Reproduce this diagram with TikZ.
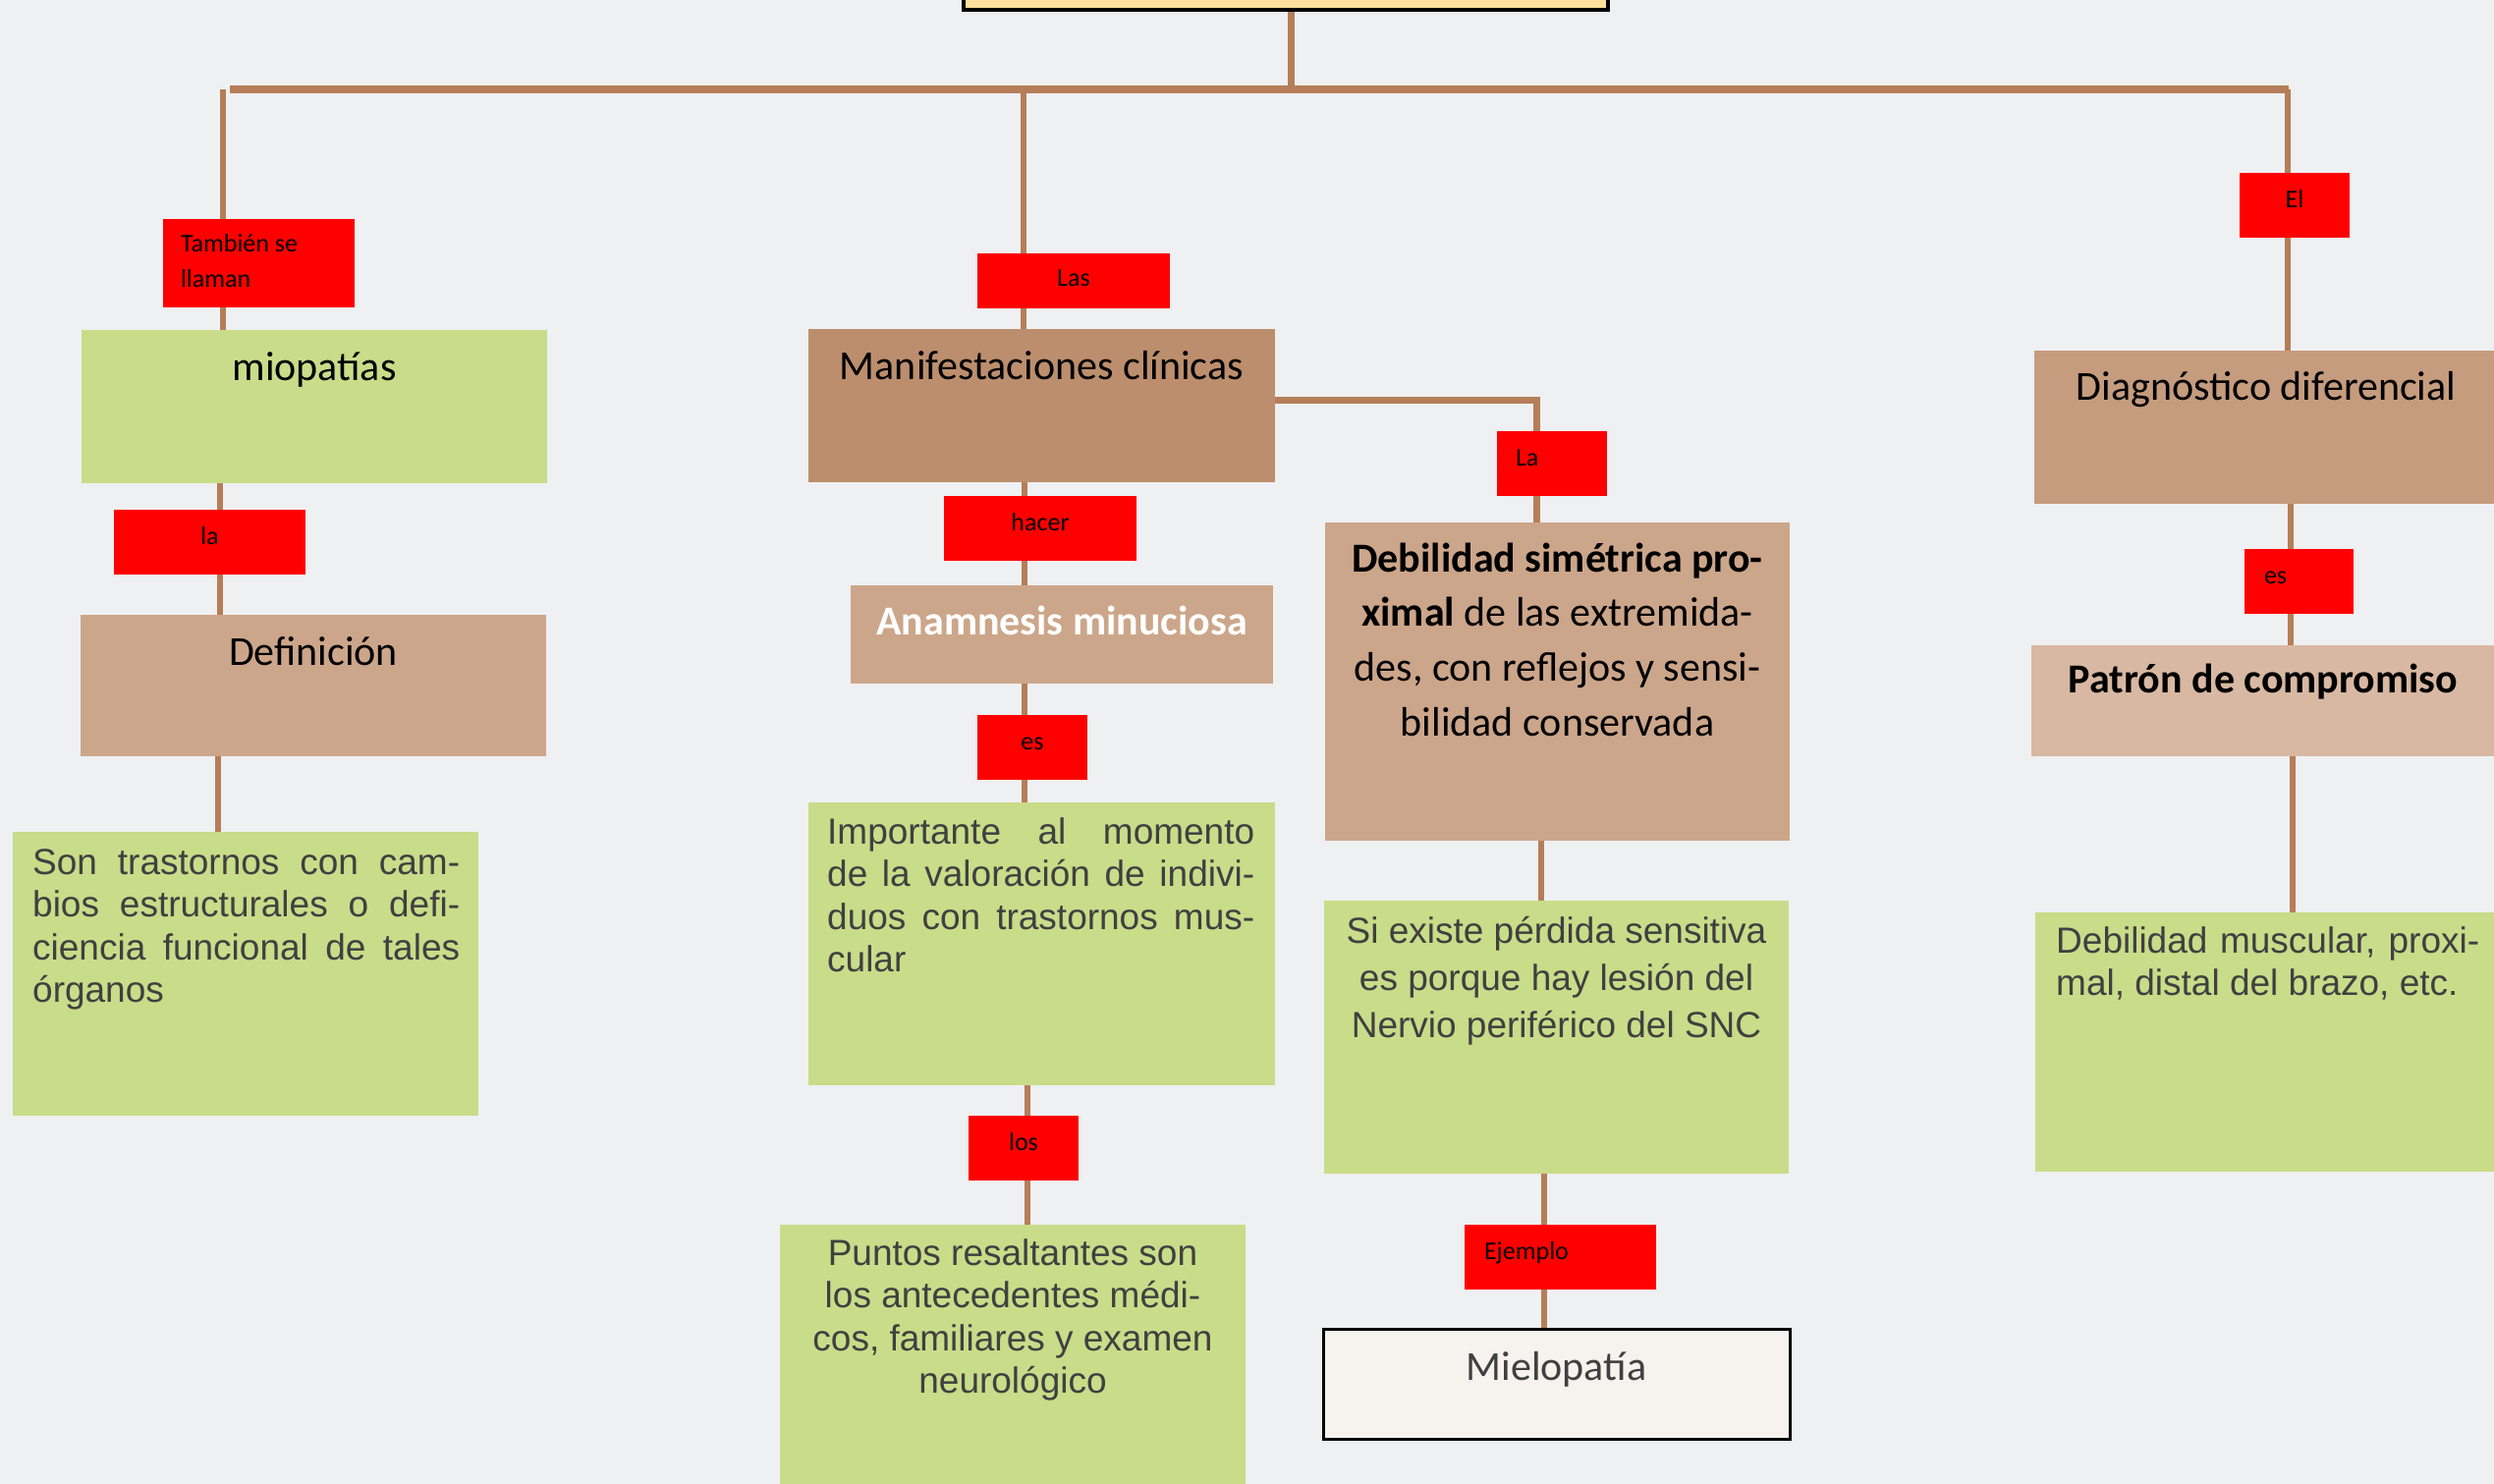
\documentclass[tikz,border=0pt]{standalone}
\usepackage{fontspec}
\setmainfont{Liberation Sans}
\newfontfamily\calib{Carlito}
\usetikzlibrary{backgrounds}
\definecolor{bgc}{HTML}{EFF0F2}
\definecolor{linec}{HTML}{B57E58}
\definecolor{grn}{HTML}{C9DC89}
\definecolor{brA}{HTML}{BC8E6D}
\definecolor{brB}{HTML}{CCA68A}
\definecolor{brC}{HTML}{C69C7E}
\definecolor{brD}{HTML}{D8B8A2}
\definecolor{mielc}{HTML}{F6F2EE}
\definecolor{topc}{HTML}{FCE09C}
\definecolor{lblred}{HTML}{FF0000}
\definecolor{bodyc}{HTML}{404040}
\newcommand\fsz[2]{\fontsize{#1pt}{#2pt}\selectfont}
\newcommand\jl[1]{\makebox[\linewidth][s]{#1}}
\begin{document}
\begin{tikzpicture}[x=1pt,y=-1pt,
  box/.style={anchor=north west, inner sep=0pt, outer sep=0pt},
  lbl/.style={box, fill=lblred, font=\calib\fsz{26}{32}, text=black, text height=15pt, text depth=10pt},
  conn/.style={draw=linec, line width=6pt},
  barline/.style={draw=linec, line width=8pt},
  head/.style={anchor=base, inner sep=0pt, font=\calib\fsz{42}{50}, text=black},
  body/.style={inner sep=0pt, font=\fsz{37}{43.6}, text=bodyc},
]
\useasboundingbox (0,0) rectangle (2539,1511);

% top box (cut off)
\node[box, fill=topc, draw=black, line width=4pt, minimum width=656pt, minimum height=90pt] (top) at (981,-80) {};

% concept boxes
\node[box, fill=grn, minimum width=474pt, minimum height=156pt] (mio) at (83,336) {};
\node[box, fill=brA, minimum width=475pt, minimum height=156pt] (man) at (823,335) {};
\node[box, fill=brC, minimum width=472pt, minimum height=156pt] (dia) at (2071,357) {};
\node[box, fill=brB, minimum width=474pt, minimum height=144pt] (def) at (82,626) {};
\node[box, fill=brB, minimum width=430pt, minimum height=100pt] (ana) at (866,596) {};
\node[box, fill=brB, minimum width=473pt, minimum height=324pt] (deb) at (1349,532) {};
\node[box, fill=brD, minimum width=472pt, minimum height=113pt] (pat) at (2068,657) {};
\node[box, fill=grn, minimum width=474pt, minimum height=289pt] (son) at (13,847) {};
\node[box, fill=grn, minimum width=475pt, minimum height=288pt] (imp) at (823,817) {};
\node[box, fill=grn, minimum width=473pt, minimum height=278pt] (si) at (1348,917) {};
\node[box, fill=grn, minimum width=472pt, minimum height=264pt] (dm) at (2072,929) {};
\node[box, fill=grn, minimum width=474pt, minimum height=300pt] (pun) at (794,1247) {};
\node[box, fill=mielc, draw=black, line width=3pt, minimum width=475pt, minimum height=112pt] (mie) at (1347,1353) {};

% texts of boxes
\node[head] (mioT) at ([yshift=-51pt]mio.north) {miopatías};
\node[head] (manT) at ([yshift=-51pt]man.north) {Manifestaciones clínicas};
\node[head] (diaT) at ([yshift=-50pt]dia.north) {Diagnóstico diferencial};
\node[head] (defT) at ([yshift=-51pt]def.north) {Definición};
\node[head, text=white] (anaT) at ([yshift=-50pt]ana.north) {\textbf{Anamnesis minuciosa}};
\node[head] (patT) at ([yshift=-48pt]pat.north) {\textbf{Patrón de compromiso}};
\node[head, font=\calib\fsz{42}{55.7}] (debT) at ([yshift=-50pt]deb.north)
  {\parbox[t]{473pt}{\centering\textbf{Debilidad simétrica pro-}\\\textbf{ximal} de las extremida-\\des, con reflejos y sensi-\\bilidad conservada}};
\node[head, text=bodyc] (mieT) at ([yshift=-52pt]mie.north) {Mielopatía};

\node[body, anchor=base west] (sonT) at ([xshift=20pt,yshift=-43pt]son.north west)
  {\parbox[t]{435pt}{\jl{Son trastornos con cam-}\\\jl{bios estructurales o defi-}\\\jl{ciencia funcional de tales}\\órganos}};
\node[body, anchor=base west] (impT) at ([xshift=19pt,yshift=-42pt]imp.north west)
  {\parbox[t]{435pt}{\jl{Importante al momento}\\\jl{de la valoración de indivi-}\\\jl{duos con trastornos mus-}\\cular}};
\node[body, anchor=base] (punT) at ([yshift=-41pt]pun.north)
  {\parbox[t]{474pt}{\centering Puntos resaltantes son\\los antecedentes médi-\\cos, familiares y examen\\neurológico}};
\node[body, font=\fsz{37}{48}, anchor=base] (siT) at ([yshift=-43pt]si.north)
  {\parbox[t]{473pt}{\centering Si existe pérdida sensitiva\\es porque hay lesión del\\Nervio periférico del SNC}};
\node[body, anchor=base west] (dmT) at ([xshift=21pt,yshift=-41pt]dm.north west)
  {\parbox[t]{431pt}{\jl{Debilidad muscular, proxi-}\\mal, distal del brazo, etc.}};

% linking-word labels
\node[lbl, minimum width=195pt, minimum height=90pt, text height=10pt, text depth=32pt, font=\calib\fsz{26}{36}] (tam) at (166,223)
  {\parbox[t]{159pt}{También se\\llaman}};
\node[lbl, minimum width=196pt, minimum height=56pt, text depth=3pt] (las) at (995,258) {Las};
\node[lbl, minimum width=112pt, minimum height=66pt] (el) at (2280,176) {El};
\node[lbl, minimum width=112pt, minimum height=66pt] (laB) at (1524,439) {\makebox[74pt][l]{La}};
\node[lbl, minimum width=195pt, minimum height=66pt] (laA) at (116,519) {la};
\node[lbl, minimum width=196pt, minimum height=66pt] (hac) at (961,505) {hacer};
\node[lbl, minimum width=112pt, minimum height=66pt] (esA) at (995,728) {es};
\node[lbl, minimum width=111pt, minimum height=66pt] (esB) at (2285,559) {\makebox[71pt][l]{es}};
\node[lbl, minimum width=112pt, minimum height=66pt] (los) at (986,1136) {los};
\node[lbl, minimum width=195pt, minimum height=66pt] (ejm) at (1491,1247) {\makebox[155pt][l]{Ejemplo}};

\coordinate (barL) at (234,91);
\coordinate (barC) at (1042,91);
\coordinate (barR) at (2330,91);

\begin{scope}[on background layer]
\fill[bgc] (0,0) rectangle (2539,1511);
% main bar
\draw[barline] (barL) -- (barR);
\draw[conn, line width=7pt] ([xshift=5pt]top.south) -- ([xshift=5pt]top.south |- barL);
% left branch
\draw[conn] ([xshift=-7pt]barL) -- ([xshift=-7pt]barL |- mio.north);
\draw[conn] ([xshift=-96pt]mio.south) -- ([xshift=-96pt]mio.south |- def.north);
\draw[conn] ([xshift=-97pt]def.south) -- ([xshift=-97pt]def.south |- son.north);
% centre branch
\draw[conn] (barC) -- (barC |- man.north);
\draw[conn] ([xshift=-18pt]man.south) -- ([xshift=-18pt]man.south |- ana.north);
\draw[conn] ([xshift=-38pt]ana.south) -- ([xshift=-38pt]ana.south |- imp.north);
\draw[conn] ([xshift=-15pt]imp.south) -- ([xshift=-15pt]imp.south |- pun.north);
% side branch
\draw[conn, line width=7pt] ([yshift=6pt]man.east) -| ([xshift=-21pt]deb.north);
\draw[conn] ([xshift=-17pt]deb.south) -- ([xshift=-17pt]deb.south |- si.north);
\draw[conn] ([xshift=-13pt]si.south) -- ([xshift=-13pt]si.south |- mie.north);
% right branch
\draw[conn] ([xshift=-1pt]barR) -- ([xshift=-1pt]barR |- dia.north);
\draw[conn] ([xshift=25pt]dia.south) -- ([xshift=25pt]dia.south |- pat.north);
\draw[conn] ([xshift=30pt]pat.south) -- ([xshift=30pt]pat.south |- dm.north);
\end{scope}
\end{tikzpicture}
\end{document}
